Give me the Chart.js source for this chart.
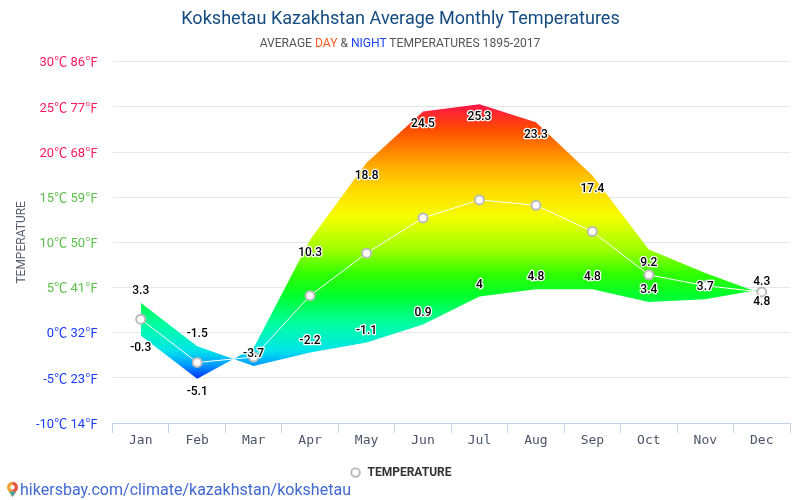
<!DOCTYPE html>
<html>
<head>
<meta charset="utf-8">
<title>Kokshetau Kazakhstan Average Monthly Temperatures</title>
<script src="https://cdn.jsdelivr.net/npm/chart.js@4"></script>
<style>
  html, body { margin: 0; padding: 0; background: #fff; }
  #wrap { position: relative; width: 800px; height: 500px; overflow: hidden; }
  #subtitle { position: absolute; left: 0; top: 36px; width: 800px; text-align: center;
    font: 12.1px Roboto, sans-serif; line-height: 14px; color: #555; }
  #subtitle .day { color: #ff5a1f; }
  #subtitle .night { color: #1f45ff; }
  #source { position: absolute; left: 20px; top: 480px; font: 16.05px Roboto, sans-serif;
    line-height: 19px; color: #4169d2; white-space: nowrap; }
  #pin { position: absolute; left: 6px; top: 481px; }
</style>
</head>
<body>
<div id="wrap">
  <canvas id="chart" width="800" height="500"></canvas>
  <div id="subtitle">AVERAGE <span class="day">DAY</span> &amp; <span class="night">NIGHT</span> TEMPERATURES 1895-2017</div>
  <svg id="pin" width="13" height="17" viewBox="0 0 13 17">
    <path d="M6.5 16 L1.7 9 A5.6 5.6 0 0 1 6.5 .8 Z" fill="#f0a030"/>
    <path d="M6.5 16 L11.3 9 A5.6 5.6 0 0 0 6.5 .8 Z" fill="#e8523a"/>
    <path d="M6.5 16 L3.4 10.5 H9.6 Z" fill="#3aa6a0"/>
    <circle cx="6.5" cy="6.3" r="2.2" fill="#fff"/>
  </svg>
  <div id="source">hikersbay.com/climate/kazakhstan/kokshetau</div>
</div>
<script>
const months = ['Jan', 'Feb', 'Mar', 'Apr', 'May', 'Jun', 'Jul', 'Aug', 'Sep', 'Oct', 'Nov', 'Dec'];
const dayTemps = [-0.3, -5.1, -1.7, 10.3, 18.8, 24.5, 25.3, 23.3, 17.4, 9.2, 6.6, 4.3];
const nightTemps = [3.3, -1.5, -3.7, -2.2, -1.1, 0.9, 4, 4.8, 4.8, 3.4, 3.7, 4.8];
const meanTemps = [1.5, -3.3, -2.7, 4.1, 8.8, 12.7, 14.7, 14.1, 11.2, 6.4, 5.2, 4.5];
const celsiusTicks = [30, 25, 20, 15, 10, 5, 0, -5, -10];
const fahrenheitTicks = [86, 77, 68, 59, 50, 41, 32, 23, 14];

// the reference prints no value for these on the day line
const noDayLabel = ['Mar', 'Nov'];
// the two lines cross here so the labels swap sides
const swappedLabels = ['Dec'];

const tempStops = [
  [25.5, '#ff1050'], [22.5, '#ff4c00'], [21, '#ff7000'], [18.3, '#ffb000'], [16, '#ffd800'],
  [12.8, '#f4ff00'], [9.2, '#a0ff00'], [6.5, '#30ff00'], [4, '#00ff30'], [1, '#00ffa0'],
  [-2, '#00e4ea'], [-3.5, '#00a0ff'], [-5.2, '#0028ff']
];

function tempGradient(context) {
  const chart = context.chart;
  if (!chart.chartArea) return '#00ff00';
  const y = chart.scales.y;
  const top = y.getPixelForValue(tempStops[0][0]);
  const bottom = y.getPixelForValue(tempStops[tempStops.length - 1][0]);
  const g = chart.ctx.createLinearGradient(0, top, 0, bottom);
  tempStops.forEach(s => {
    g.addColorStop((y.getPixelForValue(s[0]) - top) / (bottom - top), s[1]);
  });
  return g;
}

function tickColor(v) {
  if (v >= 20) return '#ff1a5e';
  if (v >= 5) return '#5cc14a';
  return '#1a3cff';
}

const valueLabels = {
  id: 'valueLabels',
  afterDatasetsDraw(chart) {
    const c = chart.ctx;
    c.save();
    c.font = '500 12px Roboto, sans-serif';
    c.textAlign = 'center';
    c.textBaseline = 'middle';
    c.lineJoin = 'round';
    c.lineWidth = 2.5;
    c.strokeStyle = '#fff';
    c.fillStyle = '#000';
    const put = (text, x, y) => {
      c.strokeText(text, x, y);
      c.fillText(text, x, y);
    };
    const dayPts = chart.getDatasetMeta(0).data;
    const nightPts = chart.getDatasetMeta(1).data;
    months.forEach((m, i) => {
      const swapped = swappedLabels.includes(m);
      if (!noDayLabel.includes(m)) {
        put(String(dayTemps[i]), dayPts[i].x, dayPts[i].y + (swapped ? -12 : 13));
      }
      put(String(nightTemps[i]), nightPts[i].x, nightPts[i].y + (swapped ? 13 : -12));
    });
    c.restore();
  }
};

new Chart(document.getElementById('chart'), {
  type: 'line',
  data: {
    labels: months,
    datasets: [
      {
        label: 'DAY',
        data: dayTemps,
        order: 1,
        borderWidth: 0,
        pointRadius: 0,
        backgroundColor: tempGradient,
        fill: '+1'
      },
      {
        label: 'NIGHT',
        data: nightTemps,
        order: 1,
        borderWidth: 0,
        pointRadius: 0,
        fill: false
      },
      {
        label: 'TEMPERATURE',
        data: meanTemps,
        order: 0,
        borderColor: '#fff',
        borderWidth: 1,
        pointRadius: 4.5,
        pointBorderWidth: 2,
        pointBackgroundColor: '#fff',
        pointBorderColor: '#bbb',
        fill: false
      }
    ]
  },
  options: {
    responsive: false,
    animation: false,
    layout: { padding: { left: 11, right: 10, top: 0, bottom: 11.5 } },
    plugins: {
      title: {
        display: true,
        text: 'Kokshetau Kazakhstan Average Monthly Temperatures',
        color: '#144c82',
        font: { family: 'Roboto, sans-serif', size: 18.08, weight: 'normal' },
        padding: { top: 9, bottom: 31 }
      },
      legend: {
        position: 'bottom',
        labels: {
          filter: item => item.datasetIndex === 2,
          usePointStyle: true,
          pointStyle: 'circle',
          boxHeight: 6,
          color: '#333',
          font: { family: 'Roboto, sans-serif', size: 12, weight: 'bold' },
          padding: 6
        }
      },
      tooltip: { enabled: false }
    },
    scales: {
      x: {
        offset: true,
        border: { color: '#c5d3e8', width: 1 },
        grid: { offset: true, drawOnChartArea: false, color: '#c5d3e8', tickLength: 10 },
        afterFit: s => { s.height = 37.5; },
        ticks: {
          color: '#4a5568',
          font: { family: '"DejaVu Sans Mono", monospace', size: 13 },
          padding: 0,
          maxRotation: 0
        }
      },
      y: {
        min: -10,
        max: 30,
        border: { display: false },
        grid: { color: '#e6e6e6', drawTicks: false },
        afterFit: s => { s.width = 101.5; },
        afterBuildTicks: s => { s.ticks = celsiusTicks.map(v => ({ value: v })); },
        title: {
          display: true,
          text: 'TEMPERATURE',
          color: '#5a6070',
          font: { family: 'Roboto, sans-serif', size: 12 },
          padding: { top: 4, bottom: 0 }
        },
        ticks: {
          padding: 14.5,
          labelOffset: 1.5,
          color: ctx => tickColor(ctx.tick.value),
          font: { family: 'Roboto, "Noto Sans CJK SC", sans-serif', size: 13 },
          callback: v => v + '℃ ' + fahrenheitTicks[celsiusTicks.indexOf(v)] + '℉'
        }
      }
    }
  },
  plugins: [valueLabels]
});
</script>
</body>
</html>
